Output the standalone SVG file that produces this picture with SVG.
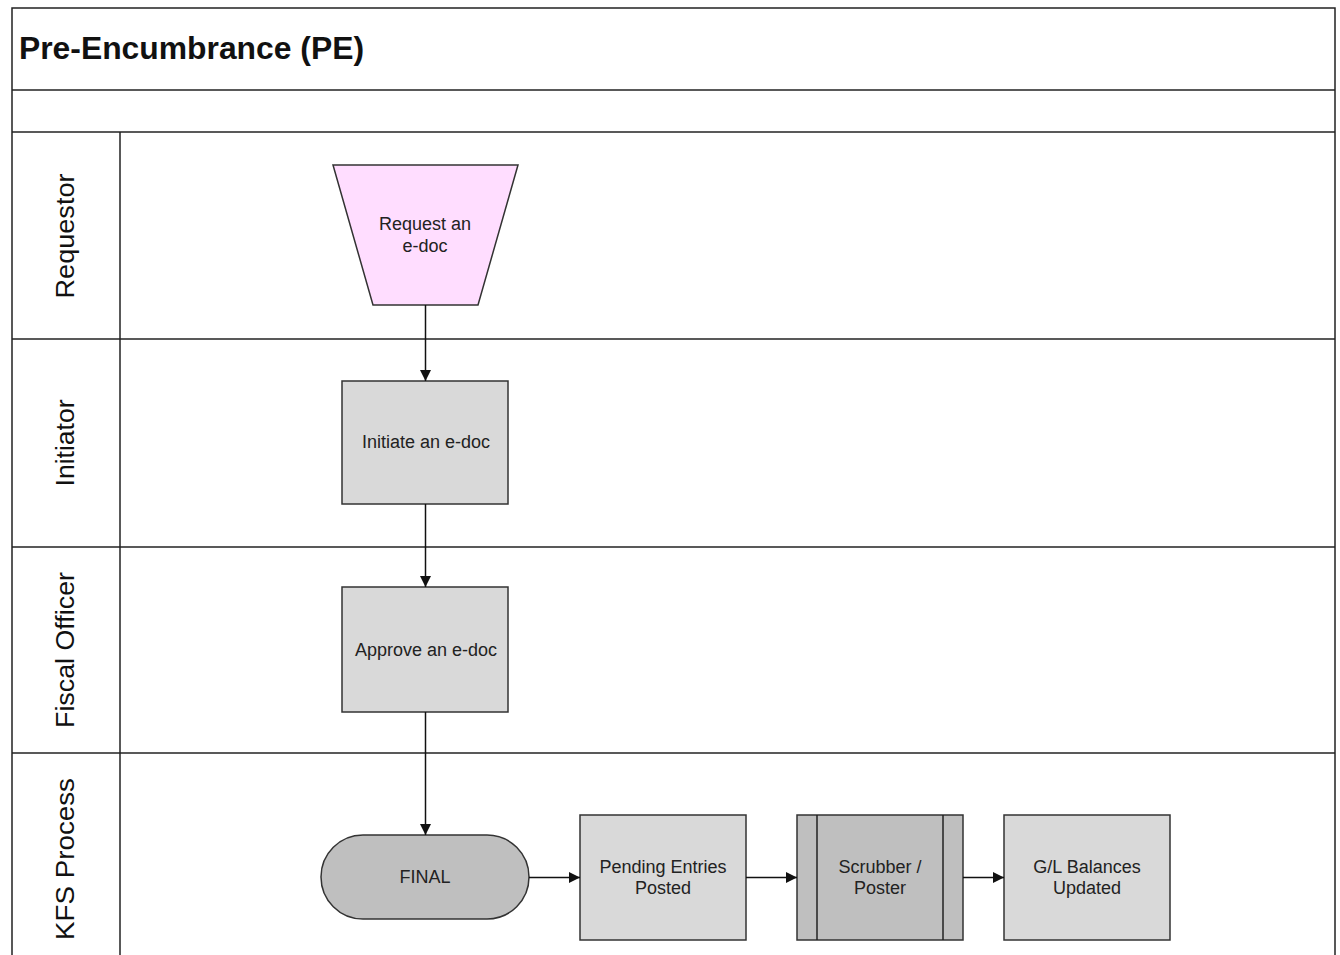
<svg xmlns="http://www.w3.org/2000/svg" width="1340" height="955" viewBox="0 0 1340 955">
<style>
.ln{stroke:#222;stroke-width:1.5;fill:none}
.box{stroke:#333;stroke-width:1.5}
.t{font-family:"Liberation Sans",Arial,sans-serif;font-size:18px;fill:#222;text-anchor:middle}
.lane{font-family:"Liberation Sans",Arial,sans-serif;font-size:26px;fill:#111;text-anchor:middle}
.c{stroke:#111;stroke-width:1.5;fill:none;marker-end:url(#ah)}
</style>
<defs>
<marker id="ah" viewBox="0 0 10 10" refX="10" refY="5" markerWidth="11" markerHeight="11" markerUnits="userSpaceOnUse" orient="auto"><path d="M0,0 L10,5 L0,10 z" fill="#111"/></marker>
</defs>
<rect width="1340" height="955" fill="#fff"/>
<g id="frame">
<path class="ln" d="M12,955 V8 H1335 V955"/>
<line class="ln" x1="12" y1="90" x2="1335" y2="90"/>
<line class="ln" x1="12" y1="132" x2="1335" y2="132"/>
<line class="ln" x1="120" y1="132" x2="120" y2="955"/>
<line class="ln" x1="12" y1="339" x2="1335" y2="339"/>
<line class="ln" x1="12" y1="547" x2="1335" y2="547"/>
<line class="ln" x1="12" y1="753" x2="1335" y2="753"/>
<text x="19" y="59" font-family="Liberation Sans,Arial,sans-serif" font-size="31" font-weight="bold" fill="#111" textLength="345" lengthAdjust="spacingAndGlyphs">Pre-Encumbrance (PE)</text>
<text class="lane" transform="translate(74,236) rotate(-90)" textLength="125" lengthAdjust="spacingAndGlyphs">Requestor</text>
<text class="lane" transform="translate(74,443) rotate(-90)" textLength="87" lengthAdjust="spacingAndGlyphs">Initiator</text>
<text class="lane" transform="translate(74,650) rotate(-90)" textLength="156" lengthAdjust="spacingAndGlyphs">Fiscal Officer</text>
<text class="lane" transform="translate(74,859) rotate(-90)" textLength="162" lengthAdjust="spacingAndGlyphs">KFS Process</text>
</g>
<g id="request">
<polygon class="box" points="333,165 518,165 478,305 373,305" fill="#FFDDFF"/>
<text class="t" x="425" y="230">Request an</text>
<text class="t" x="425" y="252">e-doc</text>
</g>
<g id="initiate">
<rect class="box" x="342" y="381" width="166" height="123" fill="#D9D9D9"/>
<text class="t" x="426" y="448">Initiate an e-doc</text>
</g>
<g id="approve">
<rect class="box" x="342" y="587" width="166" height="125" fill="#D9D9D9"/>
<text class="t" x="426" y="656">Approve an e-doc</text>
</g>
<g id="final">
<rect class="box" x="321" y="835" width="208" height="84" rx="42" ry="42" fill="#BFBFBF"/>
<text class="t" x="425" y="883">FINAL</text>
</g>
<g id="pending">
<rect class="box" x="580" y="815" width="166" height="125" fill="#D9D9D9"/>
<text class="t" x="663" y="873">Pending Entries</text>
<text class="t" x="663" y="894">Posted</text>
</g>
<g id="scrubber">
<rect class="box" x="797" y="815" width="166" height="125" fill="#BFBFBF"/>
<line class="ln" x1="817" y1="815" x2="817" y2="940"/>
<line class="ln" x1="943" y1="815" x2="943" y2="940"/>
<text class="t" x="880" y="873">Scrubber /</text>
<text class="t" x="880" y="894">Poster</text>
</g>
<g id="gl">
<rect class="box" x="1004" y="815" width="166" height="125" fill="#D9D9D9"/>
<text class="t" x="1087" y="873">G/L Balances</text>
<text class="t" x="1087" y="894">Updated</text>
</g>
<g id="connectors">
<line class="c" x1="425.5" y1="305" x2="425.5" y2="381"/>
<line class="c" x1="425.5" y1="504" x2="425.5" y2="587"/>
<line class="c" x1="425.5" y1="712" x2="425.5" y2="835"/>
<line class="c" x1="529" y1="877.5" x2="580" y2="877.5"/>
<line class="c" x1="746" y1="877.5" x2="797" y2="877.5"/>
<line class="c" x1="963" y1="877.5" x2="1004" y2="877.5"/>
</g>
</svg>
